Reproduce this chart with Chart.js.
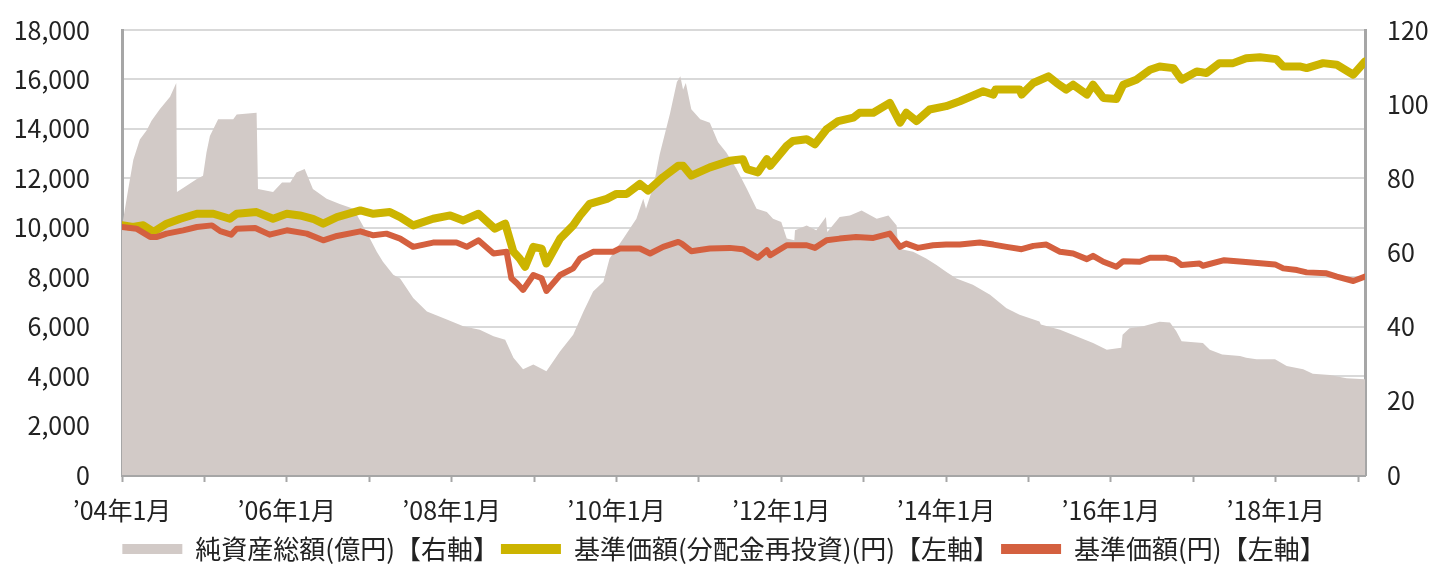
<!DOCTYPE html>
<html lang="ja">
<head>
<meta charset="UTF-8">
<title>基準価額・純資産総額の推移</title>
<script src="https://cdn.jsdelivr.net/npm/chart.js"></script>
<style>
  html, body { margin: 0; padding: 0; background: #fff; }
  #wrap { width: 1448px; height: 572px; }
</style>
</head>
<body>
<div id="wrap"><canvas id="myChart"></canvas></div>
<script>
// x = months since 2004-01
const tickMonths = [0, 12, 24, 36, 48, 60, 72, 84, 96, 108, 120, 132, 144, 156, 168, 180];

// 純資産総額(億円) - right axis
const assetMonths = [0, 0.9, 1.65, 2.6, 3.6, 4.3, 5.5, 7.0, 7.9, 8.0, 9.4, 10.9, 11.8, 12.3, 12.8, 14.0, 16.2, 16.7, 19.6, 19.8,
  22.0, 23.3, 24.5, 25.4, 26.6, 27.8, 29.8, 31.7, 33.7, 35.6, 37.1, 38.0, 39.5, 40.5, 42.4, 44.4, 47.3, 49.7, 52.1, 54.1,
  55.8, 57.0, 58.4, 59.9, 61.8, 63.8, 65.7, 67.2, 68.6, 70.1, 71.0, 73.0, 74.9, 75.9, 76.3, 77.4, 78.3, 79.8, 80.8, 81.3,
  81.7, 82.1, 82.9, 84.2, 85.6, 86.8, 88.0, 89.5, 91.0, 92.4, 93.9, 94.8, 96.0, 96.8, 97.9, 98.0, 99.7, 101.1, 102.5, 102.7,
  104.5, 106.0, 107.7, 109.9, 111.6, 112.8, 113.0, 115.2, 117.1, 118.6, 120.0, 121.5, 123.9, 126.4, 128.8, 130.7, 133.6, 133.8, 136.6, 139.5,
  141.4, 143.4, 145.5, 145.7, 146.7, 148.7, 151.1, 152.6, 153.5, 154.3, 157.4, 158.4, 160.2, 162.8, 163.7, 165.2, 167.9, 169.6, 172.0, 173.4,
  175.9, 178.3, 181];
const assetValues = [67, 77, 85, 90.5, 93, 95.5, 98.6, 102, 105.7, 76.3, 78, 79.8, 80.7, 87, 91.4, 95.9, 95.9, 97.2, 97.7, 77.1,
  76.3, 78.9, 78.9, 81.6, 82.5, 77.1, 74.5, 73.1, 71.8, 65.5, 60.2, 57.5, 54, 53, 47.7, 44.1, 41.9, 40.1, 39.2, 37.4,
  36.5, 31.6, 28.5, 29.8, 28.0, 33.4, 37.8, 44.1, 49.5, 52.1, 58.4, 63.8, 69.1, 74.5, 71.8, 78.0, 86.5, 97.5, 106, 107.5,
  103.9, 105.7, 98.6, 95.9, 95.0, 89.7, 87, 82.5, 77.1, 71.8, 70.9, 69.1, 68.2, 63.8, 63.3, 66.0, 67.3, 66.0, 69.6, 65.5,
  69.6, 70.0, 71.3, 69.1, 70.0, 67.3, 61.1, 60.2, 58.4, 56.6, 54.8, 53.0, 51.3, 48.6, 45.0, 43.2, 41.4, 40.6, 39.2, 37.0,
  35.6, 33.8, 34.3, 37.8, 39.6, 40.1, 41.3, 41.1, 38.8, 36.1, 35.6, 33.8, 32.5, 32.1, 31.6, 31.2, 31.2, 29.4, 28.5, 27.3,
  27.0, 26.1, 25.8];

// 基準価額(分配金再投資)(円) - left axis
const reinvMonths = [0, 1.6, 3.1, 4.6, 6.5, 8.5, 10.9, 13.3, 15.7, 16.7, 19.6, 22.0, 24.0, 25.9, 27.8, 29.3, 31.3, 34.7, 36.6, 39.0,
  40.5, 42.4, 45.3, 47.8, 49.7, 51.9, 54.3, 55.8, 57.0, 57.9, 58.7, 59.9, 61.1, 61.8, 63.8, 65.7, 66.7, 68.1, 70.6, 72.0,
  73.5, 75.4, 76.6, 78.8, 81.0, 81.7, 82.9, 85.6, 88.5, 90.4, 91.0, 92.6, 93.9, 94.4, 96.8, 97.7, 99.7, 100.9, 102.6, 104.3,
  106.5, 107.4, 109.4, 111.8, 113.3, 114.2, 115.7, 117.6, 120.0, 122.0, 125.4, 126.9, 127.2, 130.7, 131.0, 132.7, 134.9, 136.1, 137.5, 138.5,
  140.5, 141.4, 142.9, 144.8, 145.8, 147.7, 149.7, 151.1, 153.1, 154.3, 156.5, 157.9, 159.8, 161.8, 163.7, 165.7, 168.1, 169.1, 171.5, 172.5,
  174.9, 176.9, 179.3, 181];
const reinvValues = [10100, 10030, 10100, 9830, 10165, 10365, 10566, 10566, 10365, 10566, 10634, 10365, 10566, 10500, 10365, 10165, 10432, 10700, 10566, 10634,
  10432, 10097, 10365, 10499, 10298, 10566, 9964, 10165, 9027, 8759, 8424, 9229, 9160, 8558, 9562, 10097, 10499, 10968, 11169, 11370,
  11370, 11772, 11503, 12050, 12507, 12507, 12106, 12443, 12708, 12776, 12374, 12242, 12776, 12507, 13311, 13512, 13580, 13379, 13982, 14315,
  14452, 14653, 14653, 15054, 14251, 14653, 14315, 14785, 14918, 15119, 15521, 15388, 15589, 15589, 15388, 15857, 16124, 15857, 15589, 15790,
  15388, 15790, 15253, 15213, 15790, 15990, 16392, 16526, 16459, 15990, 16325, 16258, 16660, 16660, 16861, 16901, 16821, 16526, 16526, 16459,
  16660, 16593, 16191, 16726];

// 基準価額(円) - left axis
const navMonths = [0, 2.1, 4.1, 5.1, 6.5, 8.9, 10.9, 13.1, 14.3, 15.9, 16.7, 19.4, 21.5, 24.0, 26.9, 29.3, 31.3, 34.7, 36.6, 38.5,
  40.5, 42.4, 45.3, 48.7, 50.2, 51.9, 54.1, 56.0, 56.7, 57.5, 58.4, 59.9, 61.1, 61.8, 63.8, 65.7, 66.7, 68.6, 71.5, 72.5,
  75.4, 76.9, 78.8, 81.0, 81.5, 82.9, 85.6, 88.5, 90.4, 91.9, 92.6, 93.9, 94.4, 96.8, 99.7, 100.9, 102.6, 104.5, 106.9, 109.4,
  111.8, 113.3, 114.2, 115.9, 118.1, 120.0, 122.0, 124.9, 126.9, 128.8, 131.0, 132.7, 134.6, 136.6, 138.5, 140.5, 141.4, 142.9, 144.8, 145.8,
  148.2, 149.7, 152.1, 153.3, 154.3, 156.9, 157.4, 160.5, 163.2, 167.9, 169.1, 171.1, 172.5, 175.4, 176.9, 179.3, 181];
const navValues = [10032, 9964, 9630, 9630, 9763, 9897, 10032, 10097, 9864, 9723, 9964, 9990, 9723, 9897, 9763, 9494, 9670, 9855, 9696, 9763,
  9562, 9229, 9401, 9401, 9229, 9494, 8959, 9027, 7955, 7754, 7486, 8089, 7955, 7445, 8089, 8357, 8759, 9027, 9027, 9160,
  9160, 8959, 9229, 9429, 9361, 9053, 9160, 9187, 9133, 8891, 8786, 9093, 8891, 9293, 9293, 9187, 9494, 9562, 9630, 9590,
  9763, 9229, 9361, 9187, 9293, 9320, 9320, 9401, 9320, 9229, 9133, 9268, 9320, 9027, 8959, 8731, 8867, 8625, 8424, 8651,
  8625, 8786, 8786, 8705, 8490, 8558, 8464, 8691, 8625, 8518, 8357, 8290, 8196, 8156, 8023, 7848, 8023];

const toPoints = (xs, ys) => xs.map((x, i) => ({ x: x, y: ys[i] }));

const FONT = "'Noto Sans CJK JP', 'Noto Sans', sans-serif";
const AXIS_GRAY = '#A6A6A6';

const ctx = document.getElementById('myChart').getContext('2d');
const myChart = new Chart(ctx, {
    type: 'line',
    data: {
        datasets: [
            {
                label: '基準価額(円)【左軸】',
                data: toPoints(navMonths, navValues),
                yAxisID: 'y',
                borderColor: '#D4603F',
                backgroundColor: '#D4603F',
                borderWidth: 6,
                pointRadius: 0,
                fill: false,
                borderJoinStyle: 'round',
                borderCapStyle: 'round',
                tension: 0
            },
            {
                label: '基準価額(分配金再投資)(円)【左軸】',
                data: toPoints(reinvMonths, reinvValues),
                yAxisID: 'y',
                borderColor: '#CCB400',
                backgroundColor: '#CCB400',
                borderWidth: 8,
                pointRadius: 0,
                fill: false,
                borderJoinStyle: 'round',
                borderCapStyle: 'round',
                tension: 0
            },
            {
                label: '純資産総額(億円)【右軸】',
                data: toPoints(assetMonths, assetValues),
                yAxisID: 'y1',
                borderColor: '#D2CAC7',
                backgroundColor: '#D2CAC7',
                borderWidth: 0,
                pointRadius: 0,
                fill: 'origin',
                tension: 0
            }
        ]
    },
    options: {
        responsive: true,
        maintainAspectRatio: false,
        animation: false,
        layout: { padding: { top: 30, bottom: 0, left: 0, right: 0 } },
        scales: {
            x: {
                type: 'linear',
                min: 0,
                max: 181,
                afterBuildTicks: (scale) => { scale.ticks = tickMonths.map(v => ({ value: v })); },
                afterFit: (scale) => { scale.height = 59; },
                ticks: {
                    autoSkip: false,
                    maxRotation: 0,
                    padding: 13,
                    color: '#222',
                    font: { family: FONT, size: 25 },
                    callback: (value) => value % 24 === 0 ? '’' + String(4 + value / 12).padStart(2, '0') + '年1月' : ''
                },
                grid: {
                    drawOnChartArea: false,
                    drawTicks: true,
                    tickLength: 7,
                    tickColor: AXIS_GRAY,
                    tickWidth: 2
                },
                border: { color: AXIS_GRAY, width: 3 }
            },
            y: {
                position: 'left',
                min: 0,
                max: 18000,
                afterFit: (scale) => { scale.width = 122; },
                ticks: {
                    stepSize: 2000,
                    padding: 4,
                    color: '#222',
                    font: { family: FONT, size: 25 },
                    callback: (value) => value.toLocaleString('en-US')
                },
                grid: { color: '#D9D9D9', lineWidth: 2, drawTicks: true, tickLength: 28, tickColor: 'rgba(0,0,0,0)' },
                border: { color: AXIS_GRAY, width: 3 }
            },
            y1: {
                position: 'right',
                display: true,
                min: 0,
                max: 120,
                afterFit: (scale) => { scale.width = 1448 - 1365; },
                ticks: {
                    stepSize: 20,
                    padding: 4,
                    color: '#222',
                    font: { family: FONT, size: 25 }
                },
                grid: { drawOnChartArea: false, drawTicks: true, tickLength: 18, tickColor: 'rgba(0,0,0,0)' },
                border: { color: AXIS_GRAY, width: 3 }
            }
        },
        plugins: {
            legend: {
                position: 'bottom',
                labels: {
                    boxWidth: 60,
                    boxHeight: 10,
                    padding: 2,
                    color: '#222',
                    font: { family: FONT, size: 26 },
                    generateLabels: function(chart) {
                        const items = Chart.defaults.plugins.legend.labels.generateLabels(chart);
                        items.forEach(it => { it.lineWidth = 0; it.fillStyle = it.strokeStyle; });
                        return items.sort((a, b) => b.datasetIndex - a.datasetIndex);
                    }
                }
            },
            tooltip: { enabled: false }
        }
    }
});
</script>
</body>
</html>
